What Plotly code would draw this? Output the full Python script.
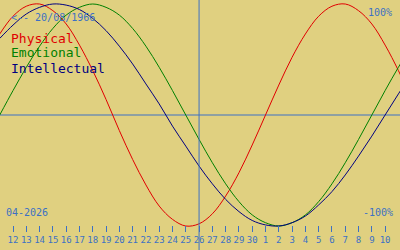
import plotly.graph_objects as go

# day offsets from 12-04-2026 (0) ... 10-05-2026 (28), with one extra day each side
days = list(range(-1, 31))
physical = [0.73, 0.89, 0.98, 1.00, 0.94, 0.82, 0.63, 0.40, 0.14, -0.14, -0.40, -0.63,
            -0.82, -0.94, -1.00, -0.98, -0.89, -0.73, -0.52, -0.27, 0.00, 0.27, 0.52,
            0.73, 0.89, 0.98, 1.00, 0.94, 0.82, 0.63, 0.40, 0.14]
emotional = [0.00, 0.22, 0.43, 0.62, 0.78, 0.90, 0.97, 1.00, 0.97, 0.90, 0.78, 0.62,
             0.43, 0.22, 0.00, -0.22, -0.43, -0.62, -0.78, -0.90, -0.97, -1.00, -0.97,
             -0.90, -0.78, -0.62, -0.43, -0.22, 0.00, 0.22, 0.43, 0.62]
intellectual = [0.69, 0.81, 0.91, 0.97, 1.00, 0.99, 0.95, 0.87, 0.76, 0.62, 0.46, 0.28,
                0.10, -0.10, -0.28, -0.46, -0.62, -0.76, -0.87, -0.95, -0.99, -1.00,
                -0.97, -0.91, -0.81, -0.69, -0.54, -0.37, -0.19, 0.00, 0.19, 0.37]
tick_vals = list(range(0, 29))
tick_labels = ["12", "13", "14", "15", "16", "17", "18", "19", "20", "21", "22", "23",
               "24", "25", "26", "27", "28", "29", "30", "1", "2", "3", "4", "5", "6",
               "7", "8", "9", "10"]
today = 14
series_names = ["Physical", "Emotional", "Intellectual"]
series_colors = ["#e00000", "#008000", "#000080"]

BG = "#e0d080"
BLUE = "#3d70c4"
FONT = "DejaVu Sans Mono"

fig = go.Figure()
for name, vals, col in zip(series_names, [physical, emotional, intellectual], series_colors):
    fig.add_trace(go.Scatter(x=days, y=vals, mode="lines", name=name,
                             line=dict(color=col, width=1, shape="spline"),
                             showlegend=False, hoverinfo="skip"))

fig.add_shape(type="line", xref="x", yref="paper", x0=today, x1=today, y0=0, y1=1,
              line=dict(color=BLUE, width=1))
fig.add_shape(type="line", xref="paper", yref="y", x0=0, x1=1, y0=0, y1=0,
              line=dict(color=BLUE, width=1), layer="below")

W, H = 400, 250
def ann(text, px, py, color, size, xanchor="left"):
    fig.add_annotation(text=text, x=px / W, y=1 - py / H, xref="paper", yref="paper",
                       xanchor=xanchor, yanchor="middle", showarrow=False,
                       font=dict(family=FONT, size=size, color=color))

ann("<-- 20/08/1966", 9, 17, BLUE, 10)
for i, (name, col) in enumerate(zip(series_names, series_colors)):
    ann(name, 9, 38 + 15 * i, col, 13)
ann("100%", 394, 12, BLUE, 10, "right")
ann("-100%", 395, 212, BLUE, 10, "right")
ann("04-2026", 4, 212, BLUE, 10)

fig.update_layout(
    width=W, height=H, margin=dict(l=0, r=0, t=0, b=0),
    paper_bgcolor=BG, plot_bgcolor=BG,
    xaxis=dict(range=[-0.98, 29.12], showgrid=False, zeroline=False, showline=False,
               tickmode="array", tickvals=tick_vals, ticktext=tick_labels,
               ticks="outside", ticklen=6, tickwidth=1, tickcolor=BLUE,
               tickfont=dict(family=FONT, size=9, color=BLUE),
               anchor="free", position=0.1, fixedrange=True),
    yaxis=dict(range=[-1.216, 1.036], showgrid=False, zeroline=False,
               showticklabels=False, showline=False, fixedrange=True),
)
fig.write_html("out.html")
